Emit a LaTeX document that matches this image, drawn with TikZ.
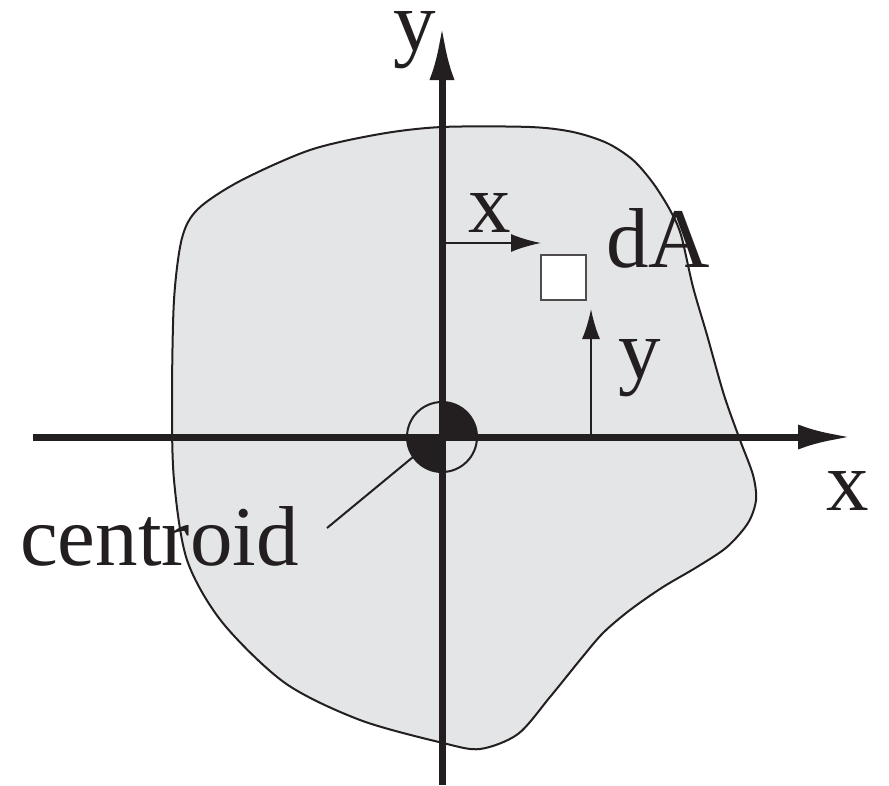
\documentclass[tikz,border=0pt]{standalone}
\usepackage{fontspec}
\setmainfont{Liberation Serif}
\usetikzlibrary{arrows.meta}
\definecolor{areagrey}{HTML}{E4E5E7}
\definecolor{ink}{HTML}{231F20}
\tikzset{
  axisline/.style={line width=7pt, draw=ink, -{Latex[length=54pt,width=25pt]}},
  plainaxis/.style={line width=7pt, draw=ink},
  thinarrow/.style={line width=2pt, draw=ink, -{Latex[length=30pt,width=18pt]}},
  outline/.style={line width=2pt, draw=ink, fill=areagrey},
  lbl/.style={inner sep=0pt, anchor=base, text=ink, font=\fontsize{85}{90}\selectfont},
}
\begin{document}
\begin{tikzpicture}[x=1pt, y=-1pt]
\useasboundingbox (0,0) rectangle (889,785);
% area
\path[outline] plot[smooth cycle, tension=0.5] coordinates {
 (442,127) (530,127) (573,132) (607,143) (633,160) (653,183) (670,210)
 (681,235) (693,287) (707,335) (724,395) (740,440) (753,475) (756,500)
 (748,523) (727,547) (697,567) (663,587) (630,610) (603,633) (580,660)
 (550,697) (518,734) (480,749) (443,743) (360,720) (285,683) (222,622)
 (187,560) (174,480) (172,400) (174,300) (182,238) (198,209) (240,181)
 (310,150) (380,134)};
% coordinates
\coordinate (O) at (442,437);
\coordinate (ytip) at (442,26);
\coordinate (ybot) at (442,785);
\coordinate (xleft) at (33,437);
\coordinate (xtip) at (852,437);
% axes
\draw[plainaxis] (O) -- (ybot);
\draw[axisline] (O) -- (ytip);
\draw[plainaxis] (O) -- (xleft);
\draw[axisline] (O) -- (xtip);
% centroid symbol
\fill[ink] (O) -- ++(35,0) arc[start angle=0, end angle=-90, radius=35] -- cycle;
\fill[ink] (O) -- ++(0,35) arc[start angle=90, end angle=180, radius=35] -- cycle;
\draw[line width=2pt, draw=ink] (O) circle[radius=35];
% leader
\coordinate (lead1) at (413,457);
\coordinate (lead2) at (327,528);
\draw[line width=2pt, draw=ink] (lead1) -- (lead2);
% dA element
\node[draw=ink!80, line width=2pt, fill=white, minimum width=45pt, minimum height=45pt, inner sep=0pt] (dA) at (563,277.5) {};
% x and y arrows
\coordinate (xs) at (446,243);
\coordinate (xe) at (541,243);
\draw[thinarrow] (xs) -- (xe);
\coordinate (ys) at (591,437);
\coordinate (ye) at (591,309);
\draw[thinarrow] (ys) -- (ye);
% labels
\node[lbl] (lx) at (490,232) {x};
\node[lbl] (ly) at (640,378) {y};
\node[lbl, anchor=base west] (ldA) at (606,267) {dA};
\node[lbl, text height=40pt] (axy) at (415,50) {y};
\node[lbl] (axx) at (848,510) {x};
\node[lbl, anchor=base west] (cen) at (20,565) {centroid};
\end{tikzpicture}
\end{document}
